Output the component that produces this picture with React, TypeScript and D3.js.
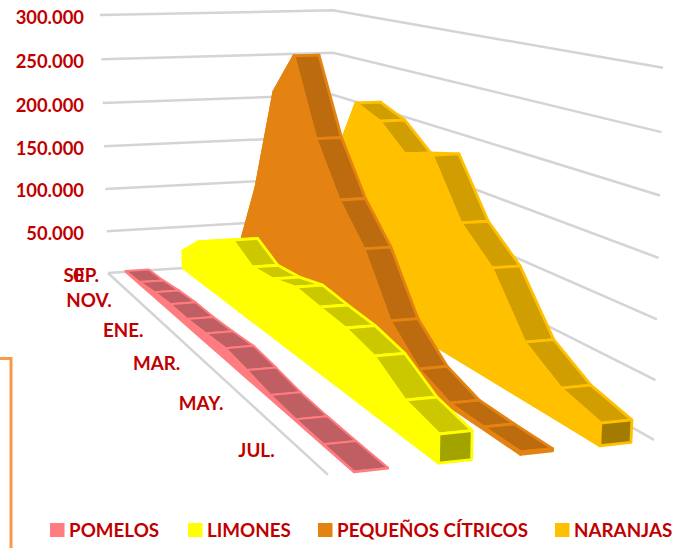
import React from "react";
import * as d3 from "d3";

const months = ["SEP.", "OCT.", "NOV.", "DIC.", "ENE.", "FEB.", "MAR.", "ABR.", "MAY.", "JUN.", "JUL.", "AGO."];
const monthLabels = ["SEP.", "NOV.", "ENE.", "MAR.", "MAY.", "JUL."];
const yTicks = [0, 50000, 100000, 150000, 200000, 250000, 300000];
const yTickLabels = ["0", "50.000", "100.000", "150.000", "200.000", "250.000", "300.000"];
const seriesNames = ["POMELOS", "LIMONES", "PEQUEÑOS CÍTRICOS", "NARANJAS"];

const pomelos = [1000, 2300, 5600, 7600, 7400, 9000, 11300, 7900, 3600, 1700, 1000, 500];
const limones = [20700, 44700, 59000, 73000, 57600, 59500, 66000, 62000, 58800, 50900, 31600, 23700];
const pequenos = [19900, 105000, 222000, 267000, 188000, 135500, 99000, 43600, 15200, 2900, 1900, 1900];
const naranjas = [30000, 80000, 141000, 214600, 203500, 178600, 187000, 132800, 103800, 51800, 29200, 19000];

const seriesValues = [pomelos, limones, pequenos, naranjas];
const sideColors = ["#FF7C80", "#FFFF00", "#E48312", "#FFC000"];
const topColors = ["#C05F63", "#CBC800", "#BC6C0E", "#D09E00"];
const capColors = ["#A05055", "#A3A300", "#A85C0A", "#A37B00"];
const legendX = [50, 188, 318, 555];

// Perspective camera fitted to the wall and floor corners.
const G = 0.0423, H = -0.3515, K = -0.0343;
const project = (s: number, m: number, z: number): [number, number] => {
  const w = 1 + G * s + H * m + K * z;
  return [
    (108 + 239.1 * s + 104.7 * m - 11.43 * z) / w,
    (273 - 4.09 * s + 35 * m - 258.5 * z) / w,
  ];
};

const mScale = d3.scalePoint<string>().domain(months).range([0, 1]);
const sScale = d3.scaleBand<string>().domain(seriesNames).range([0, 1]).padding(0).paddingInner(0);
const zScale = d3.scaleLinear().domain([0, 300000]).range([0, 1]);
const RIBBON = 0.1;

const line = d3.line<[number, number]>();
const poly = (pts: [number, number][]) => line(pts) + "Z";

const RED = "#C00000";
const FONT = "Lato, Carlito, 'Open Sans', sans-serif";

export default function App() {
  const gridColor = "#D4D4D4";
  const order = [3, 2, 1, 0];
  return (
    <svg width={674} height={548} style={{ position: "absolute", left: 0, top: 0 }} fontFamily={FONT} fontWeight={700}>
      <path d="M0,358.5H11V548" fill="none" stroke="#F79A4B" strokeWidth={3} />
      {yTicks.map((t) => {
        const z = zScale(t);
        const pts = [project(0, 0, z), project(1, 0, z), project(1, 1 - 0.015 * z, z)];
        return <path key={t} d={line(pts) ?? ""} fill="none" stroke={gridColor} strokeWidth={2.5} />;
      })}
      <path d={line([project(0, 0, 0), project(0, 1, 0)]) ?? ""} fill="none" stroke={gridColor} strokeWidth={2.5} />
      {order.map((k) => {
        const vals = seriesValues[k];
        const left = (sScale(seriesNames[k]) ?? 0) + (sScale.bandwidth() - RIBBON) / 2;
        const right = left + RIBBON;
        const ms = months.map((mn) => mScale(mn) ?? 0);
        const zs = vals.map((v) => zScale(v));
        const topL = ms.map((m, i) => project(left, m, zs[i]));
        const botL = ms.map((m) => project(left, m, 0));
        const topR = ms.map((m, i) => project(right, m, zs[i]));
        const last = ms.length - 1;
        const sw = k === 0 ? 2 : 2.8;
        return (
          <g key={k} stroke={sideColors[k]} strokeWidth={sw} strokeLinejoin="round">
            {ms.slice(0, -1).map((_, i) => (
              <path key={i} d={poly([topL[i], topR[i], topR[i + 1], topL[i + 1]])} fill={topColors[k]} />
            ))}
            <path d={poly([...topL, ...[...botL].reverse()])} fill={sideColors[k]} />
            <path
              d={poly([topL[last], topR[last], project(right, 1, 0), botL[last]])}
              fill={capColors[k]}
            />
          </g>
        );
      })}
      {monthLabels.map((lab, i) => {
        const [x, y] = project(0, mScale(lab) ?? 0, 0);
        return (
          <text
            key={lab}
            x={i === 0 ? x - 9 : x - 24}
            y={y + 9}
            textAnchor="end"
            fontSize={18.8}
            fill={RED}
          >
            {lab}
          </text>
        );
      })}
      {yTicks.map((t, i) => {
        const [, y] = project(0, 0, zScale(t));
        return (
          <text key={t} x={84} y={y + 8.5} textAnchor="end" fontSize={18.4} fill={RED}>
            {yTickLabels[i]}
          </text>
        );
      })}
      {seriesNames.map((n, i) => (
        <g key={n}>
          <rect x={legendX[i]} y={523} width={14.5} height={14} fill={sideColors[i]} />
          <text x={legendX[i] + 19} y={536.5} fontSize={18.8} fill={RED}>
            {n}
          </text>
        </g>
      ))}
    </svg>
  );
}
